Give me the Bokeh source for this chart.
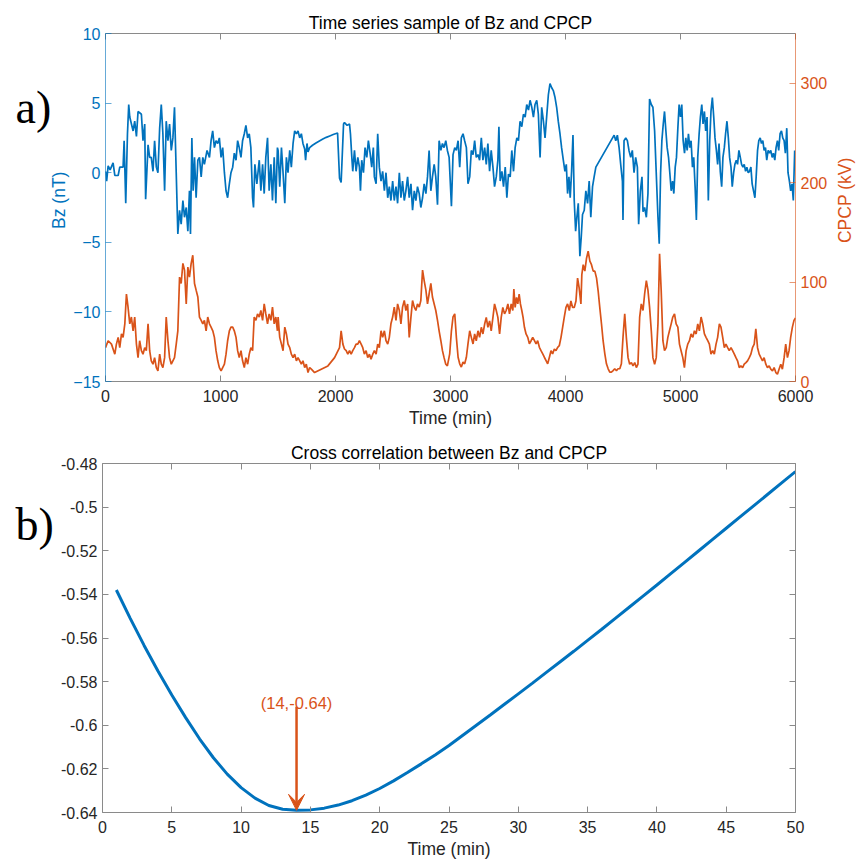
import math
from bokeh.plotting import figure
from bokeh.models import Range1d, LinearAxis, FixedTicker, Arrow, VeeHead
from bokeh.core.properties import value
from bokeh.layouts import column, row
from bokeh.embed import file_html
from bokeh.resources import INLINE

# ---------------- data: panel a) ----------------
bz_time = [
    0, 10, 23, 40, 66, 81, 110, 124, 153, 162,
    176, 191, 202, 211, 240, 254, 269, 283, 312, 326,
    341, 349, 370, 384, 398, 413, 427, 442, 456, 471,
    485, 499, 514, 528, 543, 557, 572, 586, 600, 615,
    629, 644, 658, 673, 687, 702, 716, 730, 739, 751,
    762, 774, 788, 803, 817, 832, 846, 860, 883, 904,
    918, 932, 947, 961, 976, 990, 1005, 1019, 1034, 1048,
    1062, 1077, 1091, 1106, 1120, 1135, 1149, 1163, 1178, 1192,
    1207, 1221, 1236, 1250, 1264, 1279, 1287, 1299, 1316, 1337,
    1351, 1366, 1380, 1394, 1409, 1423, 1438, 1452, 1467, 1481,
    1495,
    1501, 1515, 1530, 1544, 1559, 1573, 1587, 1602, 1616, 1631,
    1645, 1660, 1674, 1689, 1703, 1717, 1732, 1740, 1752, 1761,
    1775, 1800, 1830, 1860, 1890, 1920, 1950, 1980, 2018, 2035,
    2049, 2070, 2078, 2101, 2122, 2130, 2142, 2150, 2165, 2179,
    2194, 2208, 2217, 2228, 2243, 2257, 2272, 2286, 2301, 2315,
    2329, 2338, 2353, 2367, 2381, 2396, 2410, 2425, 2439, 2454,
    2468, 2482, 2497, 2511, 2526, 2540, 2555, 2569, 2583, 2598,
    2612, 2627, 2641, 2656, 2670, 2685, 2699, 2713, 2728, 2742,
    2757, 2771, 2786, 2800, 2814, 2829, 2843, 2858, 2872, 2887,
    2901, 2916, 2930, 2944, 2959, 2973, 2988, 3008,
    3022, 3037, 3051, 3066, 3080, 3094, 3109, 3123, 3138, 3152,
    3167, 3181, 3196, 3210, 3224, 3239, 3253, 3268, 3282, 3297,
    3311, 3325, 3340, 3354, 3369, 3383, 3398, 3412, 3421, 3432,
    3447, 3461, 3476, 3490, 3504, 3519, 3533, 3548, 3562, 3577,
    3591, 3605, 3620, 3634, 3649, 3663, 3678, 3692, 3707, 3721,
    3735, 3750, 3764, 3779, 3793, 3808, 3822, 3836, 3851, 3865,
    3880, 3894, 3909, 3923, 3937, 3952, 3966, 3981, 3995, 4007,
    4018, 4030, 4041, 4053, 4065, 4076, 4088, 4099, 4111, 4125,
    4137, 4148, 4163, 4177, 4192, 4206, 4220, 4235, 4249, 4264,
    4423, 4437, 4451, 4466, 4480, 4495,
    4500, 4509, 4524, 4538, 4552, 4567, 4581, 4596, 4610, 4625,
    4636, 4651, 4665, 4674, 4688, 4703, 4717, 4731, 4746, 4760,
    4775, 4789, 4804, 4815, 4827, 4838, 4850, 4861, 4873, 4884,
    4896, 4907, 4919, 4931, 4942, 4954, 4965, 4977, 4988, 5000,
    5011, 5023, 5035, 5046, 5058, 5069, 5081, 5092, 5104, 5115,
    5127, 5138, 5150, 5162, 5173, 5185, 5196, 5208, 5219, 5231,
    5242, 5254, 5265, 5277, 5289, 5300, 5312, 5323, 5335, 5346,
    5358, 5369, 5381, 5392, 5404, 5416, 5427, 5439, 5450, 5462,
    5473, 5485, 5496, 5508, 5520, 5531, 5543, 5554, 5566, 5577,
    5589, 5600, 5612, 5623, 5635, 5647, 5658, 5670, 5681, 5693,
    5704, 5716, 5727, 5739, 5750, 5762, 5774, 5785, 5797, 5808,
    5820, 5831, 5843, 5854, 5866, 5878, 5889, 5901, 5912, 5924,
    5935, 5947, 5958, 5970, 5981, 5993,
]
bz_nT = [
    0.1, -0.6, 0.5, 0.2, 0.7, -0.2, -0.2, 0.4, 0.4, 2.3,
    -2.2, 2.8, 4.9, 4.0, 3.0, 3.7, 2.6, 4.4, 4.2, 2.3,
    3.5, -1.9, 2.0, 1.1, 1.1, 0.1, 2.3, 0.4, 0.0, 3.2,
    4.9, 2.8, -1.3, 3.7, 2.3, 3.5, 1.6, 2.5, 4.7, 0.0,
    -4.4, -2.7, -3.7, -2.0, -3.2, -2.5, -4.2, -1.3, -4.4, 2.5,
    -1.3, 1.1, -1.8, 0.9, 1.1, -0.3, 1.1, 0.6, 1.6, 1.1,
    2.3, 3.0, 1.8, 2.3, 2.1, 2.5, 1.1, 1.8, 0.0, -1.3,
    -1.8, -0.8, 0.0, 0.4, 1.4, 0.9, 2.3, 1.8, 1.1, 2.3,
    2.8, 3.4, 2.5, 2.8, 1.8, -1.8, -2.5, 0.6, -0.8, 0.9,
    -1.3, 0.6, -1.5, 1.1, 2.5, -1.3, 0.6, -2.0, 1.1, -2.2,
    1.8,
    1.6, -1.0, 1.8, 0.0, -2.2, 1.1, 0.0, 1.6, 0.4, 2.1,
    3.0, 2.8, 3.0, 2.5, 2.8, 2.1, 1.7, 0.9, 2.1, 1.5,
    1.8, 1.97, 2.13, 2.28, 2.42, 2.54, 2.64, 2.74, 2.85, -0.4,
    -0.7, 3.5, 3.6, 3.4, 3.5, 2.8, 1.1, 0.1, 1.6, 0.1,
    1.1, 0.4, -1.3, 0.9, 0.0, 1.8, 1.1, 2.3, 1.4, 0.4,
    1.8, -0.3, -0.8, 2.8, 0.4, -0.6, 0.1, -1.3, 0.0, -1.8,
    -1.0, -2.0, -0.6, -2.0, -1.0, -2.2, 0.0, -1.8, -0.6, -2.0,
    -1.3, -0.3, -1.8, -0.8, -2.7, -1.3, -2.0, -1.0, -1.5, -2.5,
    -1.8, -0.8, -1.5, -0.3, 1.6, -1.3, -0.3, 0.6, -0.3, -2.3,
    2.3, 1.6, 2.1, 1.8, 2.3, 1.6, 1.1, -2.4,
    1.3, 1.8, 1.6, 2.3, 0.4, 2.5, 2.8, 2.3, 1.8, -0.8,
    -0.3, 1.6, 1.3, 2.3, 1.1, 1.3, 0.9, 2.5, 0.9, 1.8,
    0.6, 2.1, 0.1, 1.6, 0.4, -1.0, -0.3, 0.9, 3.3, -0.6,
    0.1, -1.0, 0.4, -1.8, -0.1, -0.3, 1.6, 0.1, 1.8, 2.5,
    2.3, 3.7, 3.3, 4.2, 4.0, 4.9, 4.5, 5.2, 4.7, 4.0,
    4.9, 5.2, 4.2, 1.1, 4.7, 3.7, 2.5, 4.0, 5.6, 6.4,
    6.1, 5.9, 5.4, 4.7, 3.7, 2.8, 1.8, 0.9, 0.1, 0.6,
    -1.5, -0.3, -1.8, 0.1, 2.7, -2.0, -4.2, -3.2, -2.2, -6.0,
    -4.6, -3.0, -2.7, -1.3, -2.2, -0.6, -3.2, -1.0, -0.3, 0.4,
    2.7, 2.3, 2.7, 1.8, 0.6, -0.6,
    -3.4, 2.3, 2.5, 2.3, 1.6, 1.1, 1.6, 0.0, 1.1, 0.4,
    -3.7, -1.3, -0.3, -2.8, -2.5, -3.2, -1.5, 5.3, 4.9, 4.7,
    3.0, 0.0, -3.2, -5.1, 0.0, 2.3, 3.5, 4.4, 3.0, 1.8,
    1.1, 0.0, -1.3, -0.6, -1.5, 0.4, 1.1, 3.2, 4.9, 4.0,
    4.9, 2.3, 1.4, 2.5, 1.6, 2.8, 1.8, 2.3, 0.4, 1.1,
    -1.0, -3.4, 1.1, 2.8, 4.0, 4.9, 3.5, 4.4, 3.0, 4.0,
    -2.0, 2.3, 4.4, 5.4, 4.0, 2.5, 1.6, 0.6, 2.1, 0.1,
    -1.0, 1.1, 1.8, 2.8, 3.7, 2.5, 1.1, 0.4, -1.0, 0.0,
    0.6, 0.9, 0.6, 1.6, 1.1, 0.6, 0.4, 0.6, 0.1, 0.4,
    0.0, 0.1, 0.4, -0.8, -1.3, -1.8, -0.3, 1.6, 2.3, 2.5,
    2.1, 2.3, 1.6, 1.8, 0.9, 1.6, 1.4, 1.6, 1.1, 1.4,
    0.9, 1.8, 2.3, 1.6, 2.8, 3.0, 2.5, 2.3, 1.4, 3.2,
    0.0, -0.6, -1.3, -0.8, -2.0, 1.6,
]

cpcp_time = [
    0, 23, 52, 81, 95, 110, 124, 139, 153, 168,
    182, 196, 211, 225, 240, 254, 269, 283, 297, 312,
    326, 341, 355, 370, 384, 398, 413, 427, 442, 456,
    471, 485, 499, 514, 528, 543, 557, 572, 586, 600,
    615, 629, 644, 658, 673, 687, 702, 716, 730, 745,
    759, 774, 788, 803, 817, 832, 846, 860, 875, 889,
    904, 918, 933, 947, 961, 976, 990, 1005, 1019, 1034,
    1048, 1062, 1077, 1091, 1106, 1120, 1135, 1149, 1163, 1178,
    1192, 1207, 1221, 1236, 1250, 1264, 1279, 1293, 1308, 1322,
    1337, 1351, 1366, 1380, 1394, 1409, 1423, 1438, 1452, 1467,
    1481, 1495,
    1501, 1515, 1530, 1544, 1559, 1573, 1587, 1602, 1616, 1631,
    1645, 1660, 1674, 1689, 1703, 1717, 1732, 1746, 1761, 1775,
    1790, 1804, 1818, 1876, 1934, 1992, 2035, 2049, 2064, 2078,
    2093, 2107, 2122, 2136, 2150, 2165, 2179, 2194, 2208, 2223,
    2237, 2251, 2266, 2280, 2295, 2309, 2324, 2338, 2353, 2367,
    2381, 2396, 2410, 2425, 2439, 2454, 2468, 2482, 2497, 2511,
    2526, 2540, 2555, 2569, 2583, 2598, 2612, 2627, 2641, 2656,
    2670, 2685, 2699, 2713, 2728, 2742, 2757, 2771, 2786, 2800,
    2814, 2829, 2843, 2858, 2872, 2887, 2901, 2916, 2930, 2944,
    2959, 2973,
    2993, 3008, 3022, 3037, 3051, 3066, 3080, 3094, 3109, 3123,
    3138, 3152, 3167, 3181, 3196, 3210, 3224, 3239, 3253, 3268,
    3282, 3297, 3311, 3325, 3340, 3354, 3369, 3383, 3398, 3412,
    3427, 3441, 3455, 3470, 3484, 3499, 3513, 3528, 3542, 3551,
    3562, 3574, 3585, 3597, 3608, 3620, 3631, 3643, 3657, 3672,
    3686, 3701, 3715, 3730, 3744, 3758, 3773, 3787, 3802, 3816,
    3831, 3845, 3860, 3874, 3888, 3903, 3917, 3932, 3946, 3961,
    3975, 3989, 4004, 4018, 4033, 4047, 4062, 4076, 4091, 4105,
    4119, 4134, 4142, 4154, 4168, 4183, 4197, 4212, 4226, 4241,
    4255, 4270, 4284, 4298, 4313, 4327, 4342, 4356, 4371, 4385,
    4399, 4414, 4428, 4443, 4457, 4472, 4486, 4500, 4515,
    4529, 4544, 4558, 4573, 4587, 4602, 4616, 4630, 4645, 4659,
    4674, 4688, 4703, 4717, 4731, 4746, 4760, 4775, 4789, 4804,
    4818, 4832, 4847, 4861, 4876, 4890, 4904, 4919, 4933, 4948,
    4962, 4977, 4991, 5005, 5020, 5034, 5049, 5063, 5078, 5092,
    5107, 5121, 5136, 5150, 5164, 5179, 5193, 5208, 5222, 5237,
    5251, 5265, 5280, 5294, 5309, 5323, 5338, 5352, 5367, 5381,
    5395, 5410, 5424, 5439, 5453, 5468, 5482, 5496, 5511, 5525,
    5540, 5554, 5569, 5583, 5598, 5612, 5626, 5641, 5655, 5670,
    5684, 5699, 5713, 5727, 5742, 5756, 5771, 5785, 5800, 5814,
    5829, 5843, 5857, 5872, 5886, 5901, 5915, 5930, 5944, 5958,
    5973, 5987, 6000,
]
cpcp_kV = [
    34, 41, 37.6, 27.5, 37.6, 44.4, 34, 47.8, 44.4, 58,
    88, 74.8, 58, 64.8, 51, 64.8, 37.6, 24, 41, 31,
    27.5, 34, 31, 58, 31, 20.8, 17.4, 24, 14, 10.7,
    27.5, 17.4, 14, 24, 64.8, 41, 24, 17.4, 20.8, 24,
    37.6, 51, 105, 98.6, 118.8, 112, 78, 115, 105, 118.8,
    127, 98.6, 91.9, 85, 64.8, 61.5, 58, 61.5, 51, 64.8,
    58, 54.7, 51, 44.4, 31, 20.8, 14, 10.7, 14, 17.4,
    27.5, 41, 51, 54.7, 54.7, 51, 44.4, 31, 24, 31,
    20.8, 14, 24, 17.4, 27.5, 34, 31, 64.8, 61.5, 68,
    64.8, 71.4, 61.5, 78, 68, 58, 68, 61.5, 74.8, 58,
    64.8, 51,
    64.8, 44.4, 37.6, 31, 54.7, 47.8, 37.6, 34, 27.5, 24,
    27.5, 20.8, 24, 20.8, 17.4, 20.8, 14, 17.4, 9, 14,
    12.4, 10.7, 9, 12.4, 15.7, 24, 34, 51, 37.6, 32.7,
    31, 27.5, 31, 27.5, 31, 34, 37.6, 37.6, 41, 37.6,
    34, 27.5, 31, 24, 27.5, 22.5, 27.5, 31, 27.5, 37.6,
    34, 51, 44.4, 51, 41, 37.6, 44.4, 58, 64.8, 74.8,
    61.5, 78, 71.4, 58, 74.8, 81.5, 71.4, 78, 44.4, 64.8,
    81.5, 74.8, 71.4, 78, 74.8, 81.5, 112, 101.5, 91.9, 78,
    88, 98.6, 85, 78, 71.4, 61.5, 51, 41, 31, 24,
    17.4, 15.7,
    27.8, 51, 65, 68, 44.4, 24.4, 17.8, 14.5, 19.5, 17.8,
    24.4, 37.8, 51, 44.4, 37.8, 47.8, 41, 51, 44.4, 54.5,
    47.8, 57.8, 64.5, 54.5, 61, 51, 64.5, 78, 71.4, 64.5,
    47.8, 64.5, 74.5, 68, 71.4, 78, 68, 78, 71.4, 93,
    74.5, 84.5, 78, 88, 78, 71.4, 64.5, 54.5, 47.8, 44.4,
    37.8, 41, 44.4, 41, 37.8, 41, 34.4, 31, 27.8, 24.4,
    21, 17.8, 24.4, 31, 27.8, 32.7, 31, 34.4, 36, 44.4,
    54.5, 64.5, 74.5, 78, 71.4, 81, 74.5, 74.5, 81, 104,
    94, 78, 107.5, 117.5, 111, 124, 131, 121, 117.5, 111,
    111, 104, 91, 74.5, 57.8, 41, 27.8, 17.8, 12.8, 9.4,
    9.4, 11, 12.8, 11, 12.8, 12.8, 17.8, 44.4, 68,
    44.4, 24, 17.4, 19, 15.7, 19, 14, 17.4, 64.8, 78,
    71.4, 88, 101.5, 91.9, 74.8, 51, 24, 17.4, 24, 58,
    128.4, 91.9, 41, 31, 34, 44.4, 51, 58, 64.8, 68,
    58, 54.7, 37.6, 31, 24, 14, 31, 37.6, 41, 47.8,
    44.4, 51, 47.8, 58, 51, 64.8, 58, 47.8, 44.4, 41,
    37.6, 27.5, 31, 27.5, 37.6, 44.4, 58, 54.7, 44.4, 34,
    37.6, 34, 31, 34, 31, 27.5, 24, 20.8, 14, 15.7,
    14, 17.4, 19, 20.8, 24, 27.5, 34, 37.6, 53, 34,
    27.5, 24, 20.8, 24, 17.4, 14, 15.7, 12.4, 10.7, 14,
    9, 7.4, 12.4, 17.4, 12.4, 24, 37.6, 24, 31, 44.4,
    54.7, 61.5, 64,
]

time_ticks = [0, 1000, 2000, 3000, 4000, 5000, 6000]
bz_ticks = [-15, -10, -5, 0, 5, 10]
cpcp_ticks = [0, 100, 200, 300]

# ---------------- data: panel b) ----------------
lag_min = list(range(1, 51))
xcorr = [
    -0.5380, -0.5510, -0.5634, -0.5751, -0.5861, -0.5965, -0.6062, -0.6149, -0.6224, -0.6286,
    -0.6334, -0.6368, -0.6385, -0.6390, -0.6388, -0.6380, -0.6366, -0.6346, -0.6320, -0.6290,
    -0.6255, -0.6217, -0.6177, -0.6136, -0.6093, -0.6046, -0.5999, -0.5952, -0.5904, -0.5856,
    -0.5808, -0.5759, -0.5710, -0.5661, -0.5611, -0.5561, -0.5510, -0.5459, -0.5408, -0.5357,
    -0.5305, -0.5253, -0.5201, -0.5149, -0.5097, -0.5045, -0.4993, -0.4941, -0.4889, -0.4837,
]
lag_ticks = [0, 5, 10, 15, 20, 25, 30, 35, 40, 45, 50]
corr_ticks = [-0.64, -0.62, -0.6, -0.58, -0.56, -0.54, -0.52, -0.5, -0.48]
corr_tick_labels = ["-0.64", "-0.62", "-0.6", "-0.58", "-0.56", "-0.54", "-0.52", "-0.5", "-0.48"]
peak_lag = 14
peak_corr = -0.639
peak_text = "(14,-0.64)"

# ---------------- styling ----------------
SANS = "Liberation Sans"
SERIF = "Liberation Serif"
BLUE = "#0072BD"
ORANGE = "#D95319"
GRAY = "#8a8a8a"
TXT = "#262626"


def style(ax, line_color, label_color, line_alpha=1.0, labels=True, standoff=5):
    ax.axis_line_color = line_color
    ax.axis_line_alpha = line_alpha
    ax.axis_line_width = 1
    ax.major_tick_line_color = line_color
    ax.major_tick_line_alpha = line_alpha
    ax.major_tick_in = 6
    ax.major_tick_out = 0
    ax.minor_tick_line_color = None
    ax.major_label_text_font = SANS
    ax.major_label_standoff = standoff
    if labels:
        ax.major_label_text_font_size = "16px"
        ax.major_label_text_color = label_color
    else:
        ax.major_label_text_font_size = "1px"
        ax.major_label_text_color = None
    ax.axis_label_text_font = SANS
    ax.axis_label_text_font_size = "17.5px"
    ax.axis_label_text_font_style = "normal"
    ax.axis_label_text_color = label_color


def strip(width, height):
    f = figure(width=width, height=height, output_backend="svg", toolbar_location=None,
               x_range=Range1d(0, width), y_range=Range1d(height, 0),
               x_axis_location=None, y_axis_location=None, min_border=0)
    f.outline_line_color = None
    f.grid.visible = False
    return f


def style_title(p):
    p.title.align = "center"
    p.title.text_font = SANS
    p.title.text_font_size = "17.5px"
    p.title.text_font_style = "normal"
    p.title.text_color = "black"
    p.title.standoff = 2


H1 = 432
H2 = 431

# ---------------- panel a ----------------
la = strip(70, H1)
la.text(x=[15], y=[92], text=["a)"], text_font=value(SERIF), text_font_size=value("46px"),
        text_color="black", text_align=value("left"), text_baseline=value("alphabetic"))
la.text(x=[58.5], y=[207], text=["Bz (nT)"], angle=math.pi / 2, text_font=value(SANS),
        text_font_size=value("17.5px"), text_color=BLUE, text_align=value("center"),
        text_baseline=value("middle"))

p1 = figure(width=760, height=H1, output_backend="svg", toolbar_location=None,
            title="Time series sample of Bz and CPCP",
            x_range=Range1d(0, 6000), y_range=Range1d(-15, 10),
            x_axis_location=None, y_axis_location=None,
            min_border_left=32, min_border_right=35, min_border_top=33, min_border_bottom=51)
style_title(p1)
p1.extra_y_ranges = {"cpcp": Range1d(0, 350)}
p1.outline_line_color = None
p1.grid.visible = False

ax_b = LinearAxis(ticker=FixedTicker(ticks=time_ticks), axis_label="Time (min)")
style(ax_b, GRAY, TXT, standoff=8)
ax_b.axis_label_standoff = 3
p1.add_layout(ax_b, "below")
ax_t = LinearAxis(ticker=FixedTicker(ticks=time_ticks))
style(ax_t, GRAY, TXT, labels=False, standoff=0)
p1.add_layout(ax_t, "above")
ax_l = LinearAxis(ticker=FixedTicker(ticks=bz_ticks))
style(ax_l, BLUE, BLUE, line_alpha=0.6)
p1.add_layout(ax_l, "left")
ax_r = LinearAxis(y_range_name="cpcp", ticker=FixedTicker(ticks=cpcp_ticks))
style(ax_r, ORANGE, ORANGE, line_alpha=0.6)
p1.add_layout(ax_r, "right")

p1.line(bz_time, bz_nT, line_color=BLUE, line_width=1.7)
p1.line(cpcp_time, cpcp_kV, line_color=ORANGE, line_width=1.7, y_range_name="cpcp")

ra = strip(29, H1)
ra.text(x=[14.5], y=[207], text=["CPCP (kV)"], angle=math.pi / 2, text_font=value(SANS),
        text_font_size=value("17.5px"), text_color=ORANGE, text_align=value("center"),
        text_baseline=value("middle"))

# ---------------- panel b ----------------
lb = strip(56, H2)
lb.text(x=[15], y=[75], text=["b)"], text_font=value(SERIF), text_font_size=value("46px"),
        text_color="black", text_align=value("left"), text_baseline=value("alphabetic"))

p2 = figure(width=803, height=H2, output_backend="svg", toolbar_location=None,
            title="Cross correlation between Bz and CPCP",
            x_range=Range1d(0, 50), y_range=Range1d(-0.64, -0.48),
            x_axis_location=None, y_axis_location=None,
            min_border_left=46, min_border_right=64, min_border_top=31, min_border_bottom=51)
style_title(p2)
p2.outline_line_color = None
p2.grid.visible = False

bx_b = LinearAxis(ticker=FixedTicker(ticks=lag_ticks), axis_label="Time (min)")
style(bx_b, GRAY, TXT, standoff=8)
bx_b.axis_label_standoff = 3
p2.add_layout(bx_b, "below")
bx_t = LinearAxis(ticker=FixedTicker(ticks=lag_ticks))
style(bx_t, GRAY, TXT, labels=False, standoff=0)
p2.add_layout(bx_t, "above")
bx_l = LinearAxis(ticker=FixedTicker(ticks=corr_ticks))
style(bx_l, GRAY, TXT)
bx_l.major_label_overrides = dict(zip(corr_ticks, corr_tick_labels))
p2.add_layout(bx_l, "left")
bx_r = LinearAxis(ticker=FixedTicker(ticks=corr_ticks))
style(bx_r, GRAY, TXT, labels=False, standoff=0)
p2.add_layout(bx_r, "right")

p2.line(lag_min, xcorr, line_color=BLUE, line_width=3)

p2.add_layout(Arrow(end=VeeHead(size=16, fill_color=ORANGE, line_color=ORANGE, line_width=1),
                    x_start=peak_lag, y_start=-0.5915, x_end=peak_lag, y_end=peak_corr,
                    line_color=ORANGE, line_width=2.5))
p2.text(x=[peak_lag], y=[-0.5899], text=[peak_text], text_font=value(SANS),
        text_font_size=value("16.5px"), text_color=ORANGE,
        text_align=value("center"), text_baseline=value("alphabetic"))

layout = column(row(la, p1, ra), row(lb, p2))
open("out.html", "w").write(file_html(layout, INLINE))
